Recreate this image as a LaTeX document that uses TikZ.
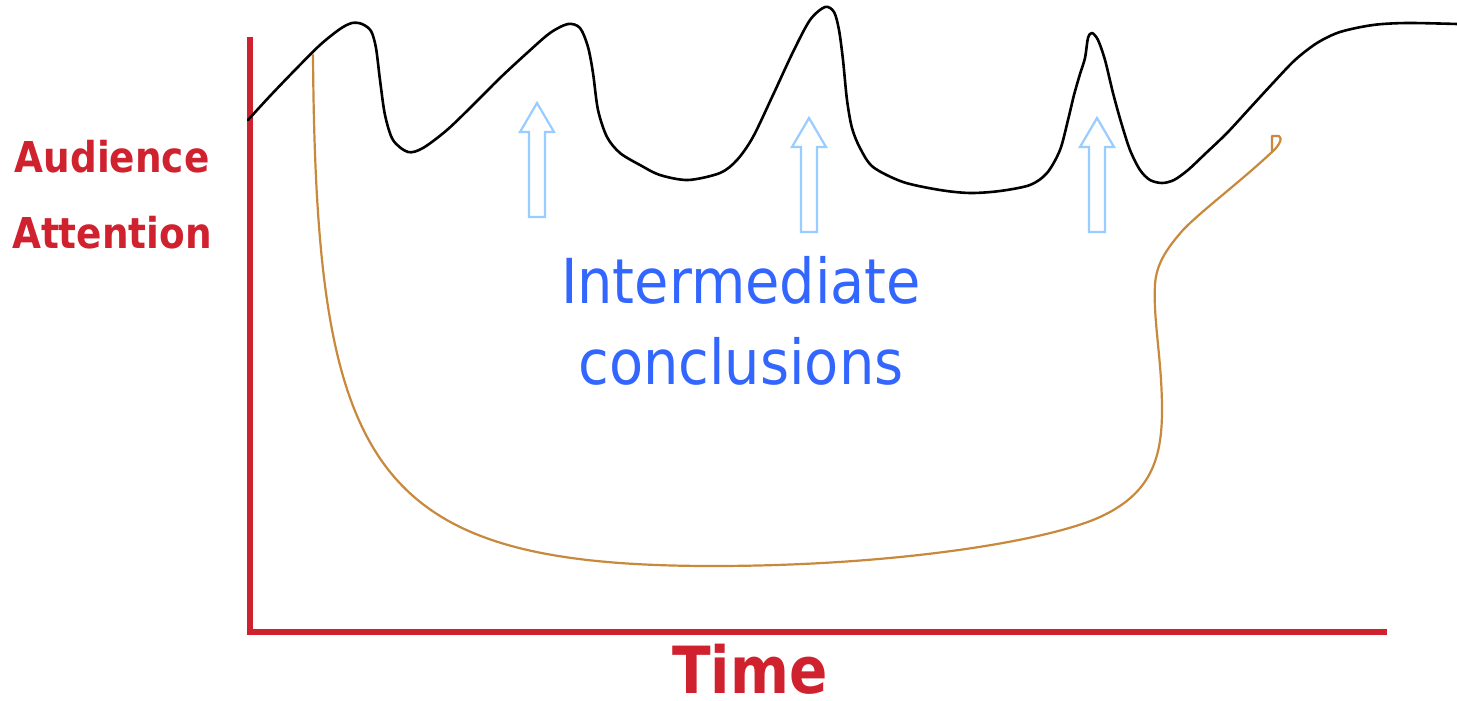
\documentclass[tikz,border=0pt]{standalone}
\usepackage{fontspec}
\setmainfont{DejaVu Sans}
\definecolor{axisred}{RGB}{208,33,47}
\definecolor{textblue}{RGB}{51,102,255}
\definecolor{arrowblue}{RGB}{153,204,255}
\definecolor{curveorange}{RGB}{200,137,60}
\tikzset{
  axisline/.style={draw=axisred, line width=6pt, line join=miter},
  attention/.style={draw=black, line width=2.6pt, line cap=round, line join=round},
  lapse/.style={draw=curveorange, line width=2.2pt, line cap=round, line join=round},
  arrowline/.style={draw=arrowblue, line width=2.2pt, line join=miter},
  axislabel/.style={text=axisred, font=\bfseries\fontsize{42.5}{50}\selectfont, inner sep=0pt, anchor=base},
  midlabel/.style={text=textblue, font=\fontsize{62}{81}\selectfont, inner sep=0pt, anchor=base},
  uparr/.pic={\draw[arrowline] (-8,0) -- (-8,-85) -- (-17,-85) -- (0,-114) -- (17,-85) -- (8,-85) -- (8,0) -- cycle;}
}
\begin{document}
\begin{tikzpicture}[x=1pt,y=-1pt]
\useasboundingbox[fill=white] (0,0) rectangle (1457,701);
% axes
\coordinate (ytop) at (249.5,37);
\coordinate (origin) at (249.5,632);
\coordinate (xend) at (1387,632);
\draw[axisline] (ytop) -- (origin) -- (xend);
% labels
\node[axislabel] (aud) at (112,172) {\scalebox{0.88}[1]{Audience}};
\node[axislabel] (att) at (112,248) {\scalebox{0.88}[1]{Attention}};
\node[axislabel, font=\bfseries\fontsize{65}{70}\selectfont] (time) at (750,693) {\scalebox{0.87}[1]{Time}};
\node[midlabel] (inter1) at (741,303) {\scalebox{0.9}[1]{Intermediate}};
\node[midlabel] (inter2) at (741,384) {\scalebox{0.9}[1]{conclusions}};
% attention curve
\draw[attention] plot[smooth, tension=0.5] coordinates {
 (248,120) (270,96) (295,70) (320,45) (340,29) (352,23) (362,24) (371,31) (376,48) (380,80) (385,115)
 (393,140) (408,152) (423,148) (447,130) (473,105) (500,78) (527,53) (550,33) (568,24) (580,28) (588,47)
 (593,73) (598,110) (607,137) (620,153) (640,165) (660,175) (688,180) (720,173) (737,160) (753,137)
 (773,95) (793,52) (810,20) (825,7) (834,12) (839,30) (843,60) (847,100) (852,128) (860,148) (873,167)
 (903,182) (940,190) (970,193) (1000,191) (1030,185) (1047,173) (1060,150) (1068,120) (1074,95)
 (1080,74) (1085,58) (1088,38) (1092,33) (1098,40) (1105,60) (1113,93) (1121,122) (1130,150) (1140,170)
 (1150,180) (1162,183) (1174,180) (1188,170) (1205,154) (1227,133) (1250,108) (1273,83) (1295,60)
 (1317,43) (1340,32) (1373,25) (1407,23) (1457,24)};
% attention-lapse curve
\coordinate (lstart) at (313,55);
\coordinate (lbottom) at (713,566);
\coordinate (lturn) at (1100,517);
\coordinate (lwall) at (1162,410);
\coordinate (lneck) at (1155,285);
\coordinate (lshoulder) at (1183,230);
\coordinate (lend) at (1272,152);
\draw[lapse] (lstart) .. controls (316,470) and (370,566) .. (lbottom)
 .. controls (900,566) and (1050,540) .. (lturn)
 .. controls (1150,494) and (1162,460) .. (lwall)
 .. controls (1162,360) and (1153,320) .. (lneck)
 .. controls (1156,262) and (1170,245) .. (lshoulder)
 .. controls (1200,212) and (1240,182) .. (lend)
 -- (1272,136) -- (1279,136) .. controls (1283,138) and (1279,146) .. (lend);
% arrows
\pic (arrowA) at (537,217) {uparr};
\pic (arrowB) at (809,232) {uparr};
\pic (arrowC) at (1097,232) {uparr};
\end{tikzpicture}
\end{document}
